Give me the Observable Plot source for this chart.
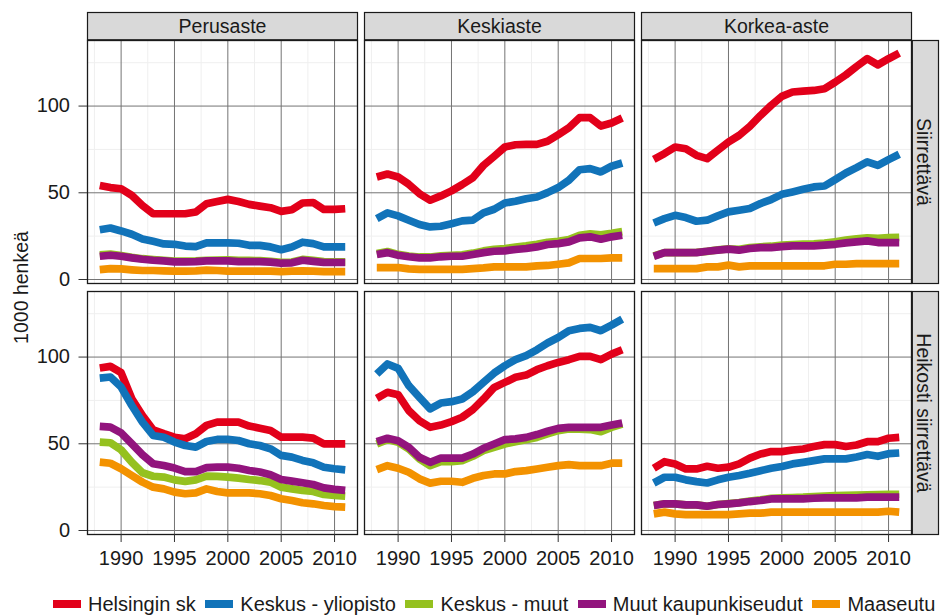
<!DOCTYPE html>
<html>
<head>
<meta charset="utf-8">
<script src="https://cdn.jsdelivr.net/npm/d3@7"></script>
<script src="https://cdn.jsdelivr.net/npm/@observablehq/plot@0.6"></script>
<style>
  html, body { margin: 0; padding: 0; background: #fff; overflow: hidden; }
  #chart { width: 940px; }
  #legend { display: flex; flex-wrap: nowrap; align-items: center; height: 24px; width: 940px; box-sizing: border-box;
            padding-left: 53px; margin-top: 7px; white-space: nowrap;
            font-family: "Liberation Sans", Arial, sans-serif; font-size: 20px; line-height: 24px; color: #1a1a1a; }
  .item { display: flex; align-items: center; margin-right: 9.5px; flex-shrink: 0; white-space: nowrap; }
  .sw { width: 28px; height: 8px; margin-right: 7px; flex-shrink: 0; }
</style>
</head>
<body>
<div id="chart"></div>
<div id="legend"></div>
<script>
// ---- categories ----
const years = [1988,1989,1990,1991,1992,1993,1994,1995,1996,1997,1998,1999,2000,2001,2002,2003,2004,2005,2006,2007,2008,2009,2010,2011];
const levels = ["Perusaste", "Keskiaste", "Korkea-aste"];
const types = ["Siirrettävä", "Heikosti siirrettävä"];
const seriesNames = ["Helsingin sk", "Keskus - yliopisto", "Keskus - muut", "Muut kaupunkiseudut", "Maaseutu"];
const xTicks = [1990, 1995, 2000, 2005, 2010];
const yTicks = [0, 50, 100];
const xMinor = [1987.5, 1992.5, 1997.5, 2002.5, 2007.5];
const yMinor = [25, 75, 125];

// ---- values (1000 henkeä) : Siirrettävä ----
const sPerus_hel = [54.2,53.0,52.3,48.5,42.7,37.9,37.9,37.9,37.9,38.9,43.7,45.0,46.2,45.0,43.3,42.3,41.4,39.3,40.2,44.1,44.4,40.4,40.4,40.8];
const sPerus_yo  = [28.7,29.7,28.0,26.1,23.4,22.0,20.5,20.3,19.3,19.0,21.1,21.1,21.1,20.9,19.7,19.7,18.8,17.2,18.8,21.5,20.7,18.8,18.8,18.8];
const sPerus_km  = [14.2,14.6,13.8,12.8,12.0,11.5,11.1,10.6,10.6,10.7,11.1,11.2,11.3,11.0,11.0,10.9,10.5,9.9,10.1,11.6,11.0,10.3,10.2,10.2];
const sPerus_mk  = [13.4,14.0,13.4,12.5,11.7,11.1,10.7,10.2,10.2,10.3,10.7,10.7,10.7,10.3,10.3,10.3,10.0,9.4,9.6,11.1,10.5,9.8,9.8,9.8];
const sPerus_ms  = [5.7,6.3,6.1,5.6,5.2,5.2,5.0,4.8,4.8,5.0,5.4,5.2,4.8,4.8,4.8,4.8,4.8,4.6,4.8,5.0,4.8,4.6,4.6,4.6];

const sKeski_hel = [59.1,60.8,59.1,54.9,49.5,45.7,48.2,51.1,54.7,58.7,65.8,71.0,76.4,77.7,77.9,77.9,79.7,83.5,87.5,93.3,93.3,88.5,90.2,93.1];
const sKeski_yo  = [35.1,38.4,36.7,34.2,31.7,30.3,30.7,32.2,33.8,34.2,38.4,40.5,44.1,45.1,46.6,47.6,50.1,53.0,57.2,63.3,63.9,62.0,65.3,67.2];
const sKeski_km  = [15.0,16.1,14.5,13.5,13.0,13.0,13.6,14.0,14.2,15.2,16.5,17.4,17.9,18.7,19.4,20.3,21.4,22.0,23.0,25.5,26.3,25.8,26.6,27.6];
const sKeski_mk  = [14.4,15.5,14.0,13.1,12.5,12.5,13.1,13.4,13.4,14.4,15.5,16.3,16.5,17.3,17.9,18.8,20.2,20.7,21.7,24.0,24.6,23.2,24.6,25.5];
const sKeski_ms  = [6.9,6.9,6.9,6.1,5.8,5.8,5.8,5.8,5.8,6.3,6.7,7.3,7.3,7.3,7.3,7.9,8.1,8.8,9.6,12.1,12.1,12.1,12.5,12.5];

const sKork_hel  = [69.3,72.6,76.4,75.4,71.6,69.7,74.5,79.3,83.1,88.3,94.6,100.4,105.6,108.1,108.6,109.0,110.0,113.8,118.0,122.8,127.3,123.8,127.3,130.5];
const sKork_yo   = [32.6,35.1,37.0,35.7,33.6,34.2,36.7,39.0,39.9,40.9,43.8,46.1,49.1,50.5,52.0,53.4,53.9,57.6,61.4,64.5,67.8,65.8,69.1,72.2];
const sKork_km   = [13.6,15.5,15.5,15.5,15.6,16.2,17.1,17.7,17.4,18.4,18.9,19.2,19.8,20.2,20.4,20.6,21.0,21.8,22.7,23.5,24.0,23.7,24.1,24.3];
const sKork_mk   = [13.4,15.5,15.5,15.5,15.5,16.3,16.9,17.5,16.9,17.9,18.4,18.4,19.0,19.4,19.4,19.4,19.8,20.3,21.1,21.7,22.3,21.3,21.3,21.3];
const sKork_ms   = [6.3,6.3,6.3,6.3,6.3,7.3,7.3,8.3,7.3,7.9,7.9,7.9,7.9,7.9,7.9,7.9,7.9,8.8,8.8,9.2,9.2,9.2,9.2,9.2];

// ---- values (1000 henkeä) : Heikosti siirrettävä ----
const hPerus_hel = [93.7,94.6,91.0,76.0,66.3,58.1,55.8,53.8,52.9,55.8,60.6,62.5,62.5,62.5,60.2,59.0,57.7,53.8,53.8,53.8,53.3,50.0,50.0,50.0];
const hPerus_yo  = [87.9,88.5,82.7,72.1,62.5,54.8,53.8,51.0,49.0,48.1,51.3,52.5,52.5,51.9,50.0,49.0,47.1,43.3,42.3,40.4,39.0,36.5,35.6,35.0];
const hPerus_km  = [51.0,50.6,46.5,39.4,33.3,31.3,30.8,29.2,28.3,29.2,31.3,31.2,30.8,30.2,29.4,28.8,27.9,25.0,24.0,23.1,22.5,20.8,20.2,19.8];
const hPerus_mk  = [60.0,59.6,56.3,50.0,43.7,38.5,37.5,36.0,34.0,34.0,36.3,36.5,36.5,35.9,34.6,33.7,32.1,29.4,28.5,27.5,26.5,24.6,23.7,23.1];
const hPerus_ms  = [39.4,38.8,35.6,31.7,27.9,25.0,24.0,22.1,21.2,21.7,24.0,22.5,21.7,21.7,21.7,21.2,20.2,18.3,17.3,16.0,15.4,14.4,13.8,13.5];

const hKeski_hel = [76.2,79.7,78.3,69.1,63.3,59.5,60.8,62.8,65.3,69.7,75.8,82.5,85.4,88.3,89.6,92.7,95.0,96.9,98.5,100.4,100.4,98.5,101.7,104.2];
const hKeski_yo  = [90.2,96.0,93.5,83.5,76.8,70.1,73.5,74.3,75.8,80.0,85.4,90.8,95.0,98.5,100.8,104.2,108.1,111.3,115.2,116.5,117.1,115.2,118.4,121.9];
const hKeski_km  = [49.9,52.4,50.9,47.0,41.3,37.4,39.7,39.7,40.3,42.8,46.1,48.0,49.9,51.2,52.4,53.7,55.7,57.6,58.5,58.5,58.2,57.0,59.5,61.4];
const hKeski_mk  = [51.2,53.2,51.8,48.0,42.2,39.3,41.7,41.7,41.7,44.1,47.4,49.9,52.4,52.8,53.7,55.3,57.2,58.9,59.5,59.5,59.5,59.5,60.8,62.0];
const hKeski_ms  = [35.1,37.4,35.9,33.6,29.8,27.3,28.4,28.4,27.8,30.1,31.7,32.6,32.6,34.0,34.5,35.5,36.5,37.4,38.0,37.4,37.4,37.4,38.8,38.8];

const hKork_hel  = [35.9,39.7,38.4,35.5,35.5,37.0,35.9,36.5,38.4,41.7,44.1,45.5,45.5,46.4,47.0,48.4,49.5,49.5,48.4,49.3,51.2,51.2,53.2,53.7];
const hKork_yo   = [27.4,30.7,30.7,29.2,28.2,27.4,29.2,30.7,31.7,33.0,34.5,35.9,36.9,38.4,39.3,40.3,41.3,41.3,41.3,42.4,43.8,42.8,44.3,44.7];
const hKork_km   = [14.4,15.4,15.4,14.8,14.8,14.0,15.0,15.5,16.1,17.0,17.7,18.6,18.8,19.0,19.2,19.6,19.9,20.1,20.3,20.4,20.6,20.7,20.8,20.9];
const hKork_mk   = [14.4,15.4,15.4,14.8,14.8,14.0,15.0,15.4,15.9,16.7,17.3,18.2,18.2,18.2,18.2,18.6,18.8,18.8,18.8,18.8,19.2,19.2,19.2,19.2];
const hKork_ms   = [9.6,10.6,9.6,9.2,9.2,9.2,9.2,9.2,9.6,10.0,10.0,10.6,10.6,10.6,10.6,10.6,10.6,10.6,10.6,10.6,10.6,10.6,11.1,10.6];

const seriesColors = ["#e2001a", "#1173b9", "#95c11f", "#92147d", "#f39200"];

// ---- build long table ----
const panels = [
  ["Siirrettävä", "Perusaste", [sPerus_hel, sPerus_yo, sPerus_km, sPerus_mk, sPerus_ms]],
  ["Siirrettävä", "Keskiaste", [sKeski_hel, sKeski_yo, sKeski_km, sKeski_mk, sKeski_ms]],
  ["Siirrettävä", "Korkea-aste", [sKork_hel, sKork_yo, sKork_km, sKork_mk, sKork_ms]],
  ["Heikosti siirrettävä", "Perusaste", [hPerus_hel, hPerus_yo, hPerus_km, hPerus_mk, hPerus_ms]],
  ["Heikosti siirrettävä", "Keskiaste", [hKeski_hel, hKeski_yo, hKeski_km, hKeski_mk, hKeski_ms]],
  ["Heikosti siirrettävä", "Korkea-aste", [hKork_hel, hKork_yo, hKork_km, hKork_mk, hKork_ms]]
];
const rows = [];
for (const [type, level, arrs] of panels) {
  arrs.forEach((arr, si) => {
    arr.forEach((v, i) => rows.push({type, level, series: seriesNames[si], year: years[i], value: v}));
  });
}

// ---- layout ----
const W = 940, H = 585, mt = 40, mb = 50, ml = 85.5, mr = 28;
const padX = 0.0252, padY = 0.03;
const bwX = (W - ml - mr) / (levels.length - padX) * (1 - padX);
const bwY = (H - mt - mb) / (types.length - padY) * (1 - padY);
const ink = "#1a1a1a";

const plot = Plot.plot({
  width: W, height: H,
  marginTop: mt, marginBottom: mb, marginLeft: ml, marginRight: mr,
  style: {fontFamily: "'Liberation Sans', Arial, sans-serif", fontSize: "20px", color: ink, background: "white", overflow: "visible"},
  fx: {domain: levels, paddingInner: padX, paddingOuter: 0, axis: null, label: null},
  fy: {domain: types, paddingInner: padY, paddingOuter: 0, axis: null, label: null},
  x: {domain: [1986.85, 2012.15], axis: null},
  y: {domain: [-2.3, 137.8], axis: null},
  color: {domain: seriesNames, range: seriesColors},
  marks: [
    Plot.ruleX(xMinor, {stroke: "#efefef", strokeWidth: 1}),
    Plot.ruleY(yMinor, {stroke: "#efefef", strokeWidth: 1}),
    Plot.ruleX(xTicks, {stroke: "#747474", strokeWidth: 1}),
    Plot.ruleY(yTicks, {stroke: "#747474", strokeWidth: 1}),
    Plot.frame({facetAnchor: "top", insetTop: -28, insetBottom: bwY, fill: "#d9d9d9", stroke: ink, strokeWidth: 1.2}),
    Plot.frame({facetAnchor: "right", insetRight: -27, insetLeft: bwX, fill: "#d9d9d9", stroke: ink, strokeWidth: 1.2}),
    Plot.text(levels, {fx: d => d, text: d => d, frameAnchor: "top", dy: -13.5, textAnchor: "middle", lineAnchor: "middle", facetAnchor: "top", fill: ink, fontSize: 19.5}),
    Plot.text(types, {fy: d => d, text: d => d, frameAnchor: "right", dx: 12, rotate: 90, textAnchor: "middle", lineAnchor: "middle", facetAnchor: "right", fill: ink, fontSize: 19.5}),
    Plot.line(rows, {x: "year", y: "value", z: "series", stroke: "series", fx: "level", fy: "type",
                     strokeWidth: 7.7, strokeLinejoin: "round", strokeLinecap: "butt"}),
    Plot.frame({stroke: ink, strokeWidth: 1.3}),
    Plot.axisX({ticks: xTicks, tickSize: 8, tickPadding: 8, tickFormat: d => String(d), label: null, stroke: "#333", fill: ink}),
    Plot.axisY({ticks: yTicks, tickSize: 8.5, tickPadding: 9, label: null, stroke: "#333", fill: ink}),
    Plot.text([{fx: "Perusaste", fy: "Siirrettävä", t: "1000 henkeä"}],
              {fx: "fx", fy: "fy", text: "t", frameAnchor: "bottom-left", dx: -65.5, dy: 4, rotate: -90,
               textAnchor: "middle", lineAnchor: "middle", fill: ink, fontSize: 19.5})
  ]
});
document.getElementById("chart").appendChild(plot);

// ---- legend ----
const legend = document.getElementById("legend");
seriesNames.forEach((name, i) => {
  const item = document.createElement("div");
  item.className = "item";
  const sw = document.createElement("span");
  sw.className = "sw";
  sw.style.background = seriesColors[i];
  const label = document.createElement("span");
  label.textContent = name;
  item.appendChild(sw);
  item.appendChild(label);
  legend.appendChild(item);
});
</script>
</body>
</html>
